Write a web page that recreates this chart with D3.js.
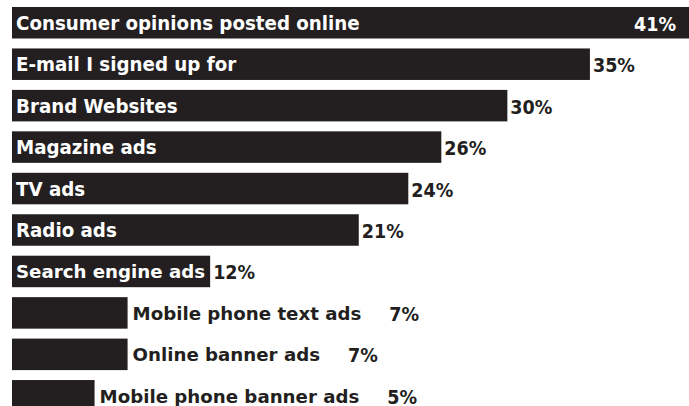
<!DOCTYPE html>
<html>
<head>
<meta charset="utf-8">
<script src="https://cdn.jsdelivr.net/npm/d3@7"></script>
<style>
  html, body { margin: 0; padding: 0; background: #ffffff; }
  svg { display: block; }
</style>
</head>
<body>
<div id="chart"></div>
<script>
const categories = [
  "Consumer opinions posted online",
  "E-mail I signed up for",
  "Brand Websites",
  "Magazine ads",
  "TV ads",
  "Radio ads",
  "Search engine ads",
  "Mobile phone text ads",
  "Online banner ads",
  "Mobile phone banner ads"
];
const values = [41, 35, 30, 26, 24, 21, 12, 7, 7, 5];
const valueLabels = ["41%", "35%", "30%", "26%", "24%", "21%", "12%", "7%", "7%", "5%"];

const W = 689, H = 406;
const barColor = "#231f20";
const condFont = "'DejaVu Sans Condensed', 'DejaVu Sans', sans-serif";
const wideFont = "'DejaVu Sans', sans-serif";

const data = categories.map((c, i) => ({ cat: c, value: values[i], label: valueLabels[i], i }));

const svg = d3.select("#chart").append("svg")
  .attr("width", W).attr("height", H);

const x = d3.scaleLinear().domain([0, 41]).range([12, 689]);
const y = d3.scaleBand().domain(categories)
  .range([7, 7 + 9 * 41.45 + 31.5])
  .paddingInner(0.24).paddingOuter(0).align(0);

const rows = svg.selectAll("g.row").data(data).enter().append("g").attr("class", "row");

rows.append("rect")
  .attr("x", x(0))
  .attr("y", d => y(d.cat))
  .attr("width", d => x(d.value) - x(0))
  .attr("height", y.bandwidth())
  .attr("fill", barColor);

rows.each(function(d) {
  const g = d3.select(this);
  const cy = y(d.cat) + y.bandwidth() / 2;
  const condensed = d.i < 6;
  const lbl = g.append("text")
    .text(d.cat)
    .attr("font-family", condensed ? condFont : wideFont)
    .attr("font-stretch", condensed ? "condensed" : "normal")
    .attr("font-weight", "bold")
    .attr("font-size", condensed ? 20.3 : 18.2);
  const lw = lbl.node().getComputedTextLength();
  const barEnd = x(d.value);
  const inside = lw + 6 < barEnd - x(0);
  let labelEnd;
  if (inside) {
    lbl.attr("x", x(0) + 4).attr("y", cy + 7).attr("fill", "#ffffff");
    labelEnd = barEnd;
  } else {
    lbl.attr("x", barEnd + 5).attr("y", cy + 7).attr("fill", barColor);
    labelEnd = barEnd + 5 + lw + 28;
  }
  const pct = g.append("text")
    .text(d.label)
    .attr("font-family", condFont)
    .attr("font-stretch", "condensed")
    .attr("font-weight", "bold")
    .attr("font-size", 19.5)
    .attr("y", cy + 8);
  const pw = pct.node().getComputedTextLength();
  if (inside && labelEnd + 3 + pw > W) {
    pct.attr("x", barEnd - 13).attr("text-anchor", "end").attr("fill", "#ffffff");
  } else if (inside) {
    pct.attr("x", barEnd + 3).attr("fill", barColor);
  } else {
    pct.attr("x", labelEnd).attr("fill", barColor);
  }
});
</script>
</body>
</html>
